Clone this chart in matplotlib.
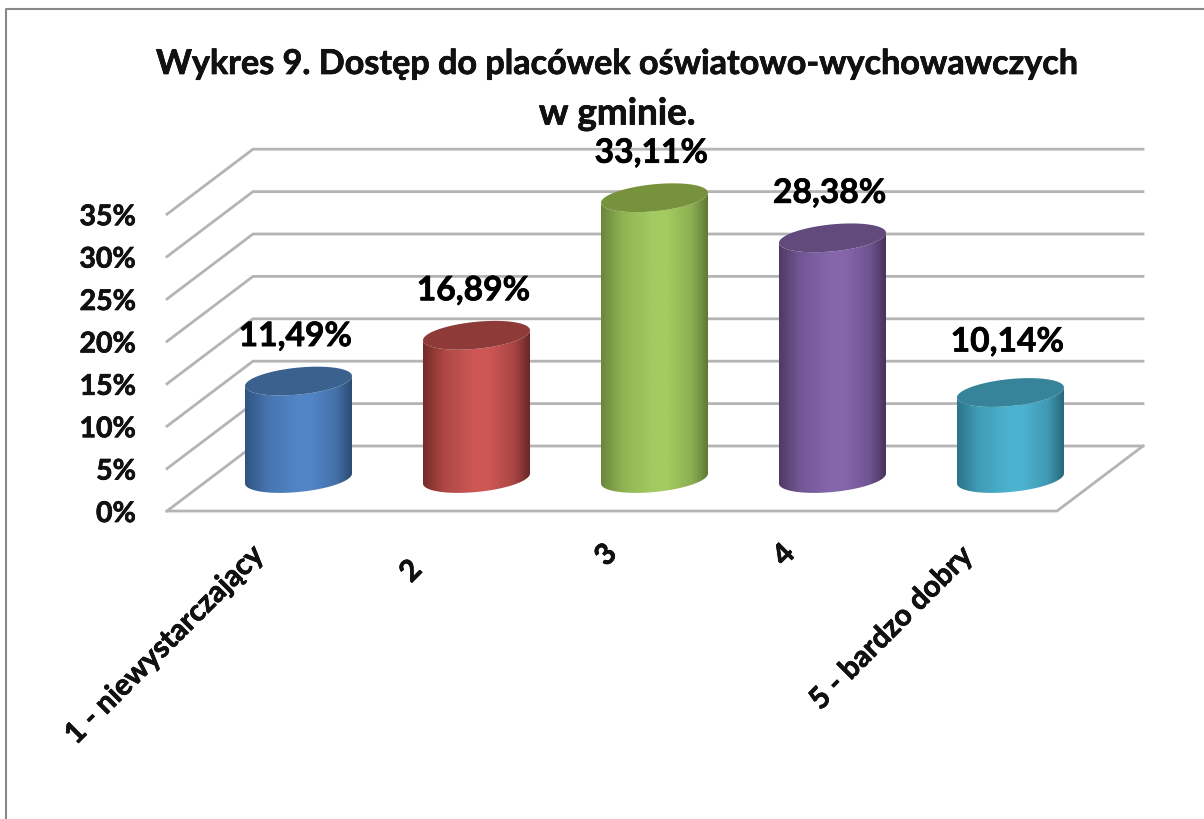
import numpy as np
from matplotlib import pyplot as plt
from matplotlib import patheffects as pe
from matplotlib.colors import LinearSegmentedColormap, to_rgb
from matplotlib.patches import Polygon

plt.rcParams['font.family'] = ['Lato', 'DejaVu Sans']

title_lines = ['Wykres 9. Dostęp do placówek oświatowo-wychowawczych', 'w gminie.']
categories = ['1 - niewystarczający', '2', '3', '4', '5 - bardzo dobry']
values = [11.49, 16.89, 33.11, 28.38, 10.14]
value_labels = ['11,49%', '16,89%', '33,11%', '28,38%', '10,14%']
y_ticks = [0, 5, 10, 15, 20, 25, 30, 35]

# mid, edge, top
colors = [
    ('#5285c6', '#2f5480', '#3b618f'),
    ('#cd5755', '#742c2a', '#8e3a38'),
    ('#a3cb60', '#6a863d', '#76923c'),
    ('#8566ac', '#4f3a66', '#624a7c'),
    ('#4cb2cf', '#2c7488', '#37839a'),
]

# the 3d box, in pixels
FRONT_L, FRONT_R = 167, 1057
BACK_L, BACK_R = 253, 1143
FRONT_Y0, BACK_Y0 = 511, 446
PX_PER_PCT = 8.48
BAR_X0, BAR_STEP = 298.5, 178
BAR_BASE = 478.5
RX, RY, TILT = 53.5, 13.5, -5.0

# label tweaks, the original's placement is not quite regular
label_dy = [0, 0, 0, 0, -6]
cat_x = [249, 407, 602, 780, 958]
cat_y = [540, 555, 539, 539, 541]

bold = [pe.withStroke(linewidth=0.5, foreground='black')]


def y_front(v):
    return FRONT_Y0 - v * PX_PER_PCT


def y_back(v):
    return BACK_Y0 - v * PX_PER_PCT


def ellipse(cx, cy, t):
    return cx + RX * np.cos(t), cy + RY * np.sin(t) + TILT * np.cos(t)


def cylinder(ax, i, v, mid, edge, top):
    cx = BAR_X0 + i * BAR_STEP
    y_top = BAR_BASE - v * PX_PER_PCT
    # body: lower half of the base ellipse + upper edge of the cap
    t = np.linspace(0, np.pi, 60)
    bx, by = ellipse(cx, BAR_BASE, t)
    tx, ty = ellipse(cx, y_top, t[::-1])
    verts = np.vstack([np.column_stack([bx, by]), np.column_stack([tx, ty])])
    body = Polygon(verts, closed=True, fc='none', ec='none', zorder=3)
    ax.add_patch(body)
    m = np.array(to_rgb(mid))
    e = np.array(to_rgb(edge))
    stops = [(0, e), (0.2, 0.35 * e + 0.65 * m), (0.48, m), (0.62, m),
             (0.85, 0.4 * e + 0.6 * m), (1, e * 0.9)]
    cmap = LinearSegmentedColormap.from_list('c', [(p, tuple(c)) for p, c in stops], N=256)
    grad = np.linspace(0, 1, 256)[None, :]
    im = ax.imshow(grad, cmap=cmap, extent=[cx - RX, cx + RX, by.max() + 2, ty.min() - 2],
                   aspect='auto', zorder=3, interpolation='bilinear')
    im.set_clip_path(body)
    # cap
    t = np.linspace(0, 2 * np.pi, 120)
    tx, ty = ellipse(cx, y_top, t)
    ax.fill(tx, ty, color=top, lw=0, zorder=4)
    return cx, y_top


fig = plt.figure(figsize=(12.04, 8.19), dpi=100)
ax = fig.add_axes([0, 0, 1, 1])
ax.axis('off')

# outer frame, only top and left are in the crop
ax.plot([6, 6, 1204], [819, 9, 9], color='#888888', lw=1.5, zorder=1)

grid = '#b4b4b4'
for v in y_ticks:
    ax.plot([FRONT_L, BACK_L, BACK_R], [y_front(v), y_back(v), y_back(v)],
            color=grid, lw=2, zorder=2, solid_joinstyle='miter')
    ax.text(136, y_front(v) + 3, '%d%%' % v, ha='right', va='center', fontsize=20.5,
            fontweight='bold', color='#111111', zorder=6, path_effects=bold)
ax.plot([FRONT_L, FRONT_R, BACK_R], [FRONT_Y0, FRONT_Y0, BACK_Y0], color=grid, lw=2, zorder=2)

for i, v in enumerate(values):
    cx, y_top = cylinder(ax, i, v, *colors[i])
    ax.text(cx - 3, y_top - 45 + label_dy[i], value_labels[i], ha='center', va='center',
            fontsize=24.2, fontweight='bold', color='black', zorder=6, path_effects=bold)
    ax.text(cat_x[i], cat_y[i], categories[i], rotation=45, rotation_mode='anchor', ha='right',
            va='top', fontsize=21.3, fontweight='bold', color='#111111', zorder=6, path_effects=bold)

ax.text(617, 64, title_lines[0], ha='center', va='center', fontsize=24.6, fontweight='bold',
        color='#111111', zorder=6, path_effects=bold)
ax.text(617, 114, title_lines[1], ha='center', va='center', fontsize=26.5, fontweight='bold',
        color='#111111', zorder=6, path_effects=bold)

ax.set_xlim(0, 1204)
ax.set_ylim(819, 0)
fig.savefig('out.png', dpi=100)
